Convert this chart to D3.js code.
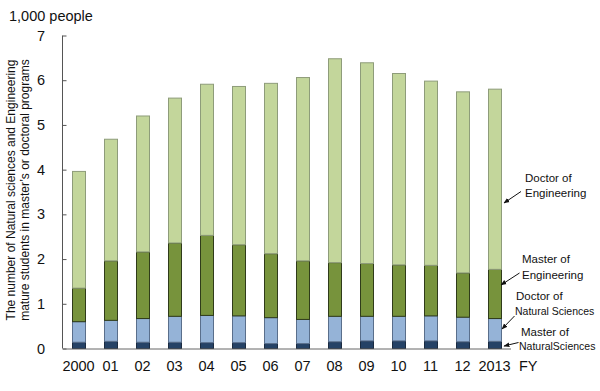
<!DOCTYPE html>
<html><head><meta charset="utf-8">
<script src="https://cdn.jsdelivr.net/npm/d3@7"></script>
<style>body{margin:0;background:#fff;} text{font-family:"Liberation Sans",Arial,sans-serif;fill:#111;}</style>
</head><body>
<svg id="c" width="600" height="391"></svg>
<script>
const years = ["2000","01","02","03","04","05","06","07","08","09","10","11","12","2013"];
const masterNaturalSciences = [0.14,0.16,0.14,0.14,0.13,0.13,0.11,0.11,0.15,0.17,0.17,0.17,0.15,0.16];
const doctorNaturalSciences = [0.46,0.47,0.53,0.58,0.61,0.60,0.58,0.54,0.57,0.55,0.55,0.56,0.55,0.51];
const masterEngineering     = [0.75,1.33,1.49,1.64,1.79,1.59,1.43,1.31,1.20,1.18,1.15,1.13,0.99,1.10];
const doctorEngineering     = [2.61,2.72,3.04,3.24,3.38,3.54,3.81,4.10,4.56,4.49,4.28,4.12,4.05,4.03];
const yTicks = [0,1,2,3,4,5,6,7];
const seriesNames = ["Master of NaturalSciences","Doctor of Natural Sciences","Master of Engineering","Doctor of Engineering"];

const svg = d3.select("#c");
const x = d3.scaleBand().domain(years).range([62.5,510.5]).paddingInner(0.6).paddingOuter(0.3);
const y = d3.scaleLinear().domain([0,7]).range([348.5,35.5]);

const keys = ["mns","dns","me","de"];
const table = years.map((yr,i)=>({year:yr, mns:masterNaturalSciences[i], dns:doctorNaturalSciences[i], me:masterEngineering[i], de:doctorEngineering[i]}));
const stack = d3.stack().keys(keys)(table);
const fills = {mns:"#254266", dns:"#95b3d7", me:"#77933c", de:"#c3d69b"};
const strokes = {mns:"#1a2a40", dns:"#5a6f8c", me:"#2f3b1a", de:"#8e9c7a"};

svg.append("g").selectAll("g").data(stack).join("g")
  .attr("fill", d=>fills[d.key]).attr("stroke", d=>strokes[d.key]).attr("stroke-width",1)
  .selectAll("rect").data(d=>d).join("rect")
  .attr("x", d=>Math.round(x(d.data.year))+0.5)
  .attr("width", Math.round(x.bandwidth()))
  .attr("y", d=>y(d[1]))
  .attr("height", d=>y(d[0])-y(d[1]));

// y axis
const ya = svg.append("g").attr("transform","translate(62.5,0)")
  .call(d3.axisRight(y).tickValues(yTicks).tickSize(4).tickFormat(""));
ya.select(".domain").attr("stroke","#555").attr("d","M0,"+y(7)+"V"+y(0));
ya.selectAll(".tick line").attr("stroke","#555");
svg.append("g").selectAll("text").data(yTicks).join("text")
  .attr("x",45).attr("y",d=>y(d)+5).attr("text-anchor","end").attr("font-size",14.5).text(d=>d);

// x axis baseline
const xa = svg.append("g").attr("transform","translate(0,348.5)")
  .call(d3.axisBottom(x).tickSize(0).tickPadding(0));
xa.select(".domain").attr("stroke","#666");
xa.selectAll(".tick text").attr("font-size",14.5).attr("dy",0).attr("y",22).style("fill","#111").style("font-family","Liberation Sans, Arial, sans-serif");
svg.append("text").attr("x",519).attr("y",370.5).attr("font-size",14.5).text("FY");

svg.append("text").attr("x",9).attr("y",21).attr("font-size",14.5).text("1,000 people");
const yt = svg.append("text").attr("transform","translate(15,190) rotate(-90)").attr("text-anchor","middle").attr("font-size",12);
yt.append("tspan").attr("x",0).attr("y",0).text("The number of Natural sciences and Engineering");
yt.append("tspan").attr("x",0).attr("y",13.5).text("mature students in master\u2019s or doctoral programs");

// annotations
svg.append("defs").append("marker").attr("id","ah").attr("viewBox","0 0 10 10").attr("refX",9).attr("refY",5)
  .attr("markerWidth",6).attr("markerHeight",6).attr("orient","auto")
  .append("path").attr("d","M0,1L10,5L0,9Z").attr("fill","#111");
const ann = [
  {lines:["Doctor of","Engineering"], tx:[525,525], ty:[182,197], fs:[11.5,11.5], a:[521,191.5,504,203]},
  {lines:["Master of","Engineering"], tx:[522,522], ty:[263,279], fs:[11.5,11.5], a:[519.5,273,501,285]},
  {lines:["Doctor of","Natural Sciences"], tx:[516,515], ty:[300,315], fs:[11.5,10.5], a:[514.5,316,502,329]},
  {lines:["Master of","NaturalSciences"], tx:[521,519], ty:[336,350], fs:[11.5,10.5], a:[518.5,342.5,504,346]}
];
ann.forEach(a=>{
  a.lines.forEach((l,i)=>svg.append("text").attr("x",a.tx[i]).attr("y",a.ty[i]).attr("font-size",a.fs[i]).text(l));
  svg.append("line").attr("x1",a.a[0]).attr("y1",a.a[1]).attr("x2",a.a[2]).attr("y2",a.a[3])
    .attr("stroke","#111").attr("stroke-width",1).attr("marker-end","url(#ah)");
});
</script>
</body></html>
